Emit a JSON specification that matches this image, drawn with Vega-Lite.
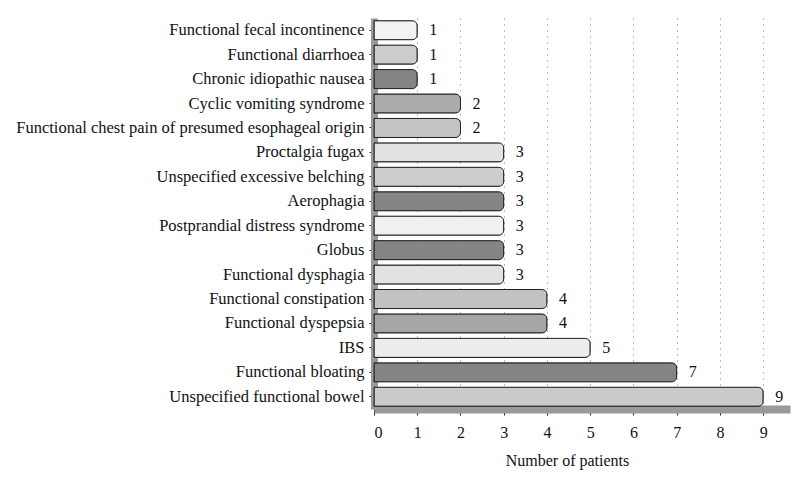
{
  "$schema": "https://vega.github.io/schema/vega-lite/v6.json",
  "autosize": {"type": "none"},
  "width": 416,
  "height": 391,
  "padding": {"left": 374, "top": 18, "right": 6, "bottom": 68},
  "background": "white",
  "config": {
    "view": {"stroke": null},
    "font": "Liberation Serif",
    "axis": {"labelFont": "Liberation Serif", "titleFont": "Liberation Serif", "labelColor": "#111", "titleColor": "#111"}
  },
  "data": {
    "values": [
      {"disorder": "Functional fecal incontinence", "patients": 1},
      {"disorder": "Functional diarrhoea", "patients": 1},
      {"disorder": "Chronic idiopathic nausea", "patients": 1},
      {"disorder": "Cyclic vomiting syndrome", "patients": 2},
      {"disorder": "Functional chest pain of presumed esophageal origin", "patients": 2},
      {"disorder": "Proctalgia fugax", "patients": 3},
      {"disorder": "Unspecified excessive belching", "patients": 3},
      {"disorder": "Aerophagia", "patients": 3},
      {"disorder": "Postprandial distress syndrome", "patients": 3},
      {"disorder": "Globus", "patients": 3},
      {"disorder": "Functional dysphagia", "patients": 3},
      {"disorder": "Functional constipation", "patients": 4},
      {"disorder": "Functional dyspepsia", "patients": 4},
      {"disorder": "IBS", "patients": 5},
      {"disorder": "Functional bloating", "patients": 7},
      {"disorder": "Unspecified functional bowel", "patients": 9}
    ]
  },
  "encoding": {
    "y": {
      "field": "disorder",
      "type": "nominal",
      "sort": null,
      "scale": {"paddingInner": 0.22, "paddingOuter": 0.11},
      "axis": {
        "title": null,
        "labelFontSize": 16.5,
        "labelPadding": 5,
        "tickSize": 5,
        "tickColor": "#222",
        "domainColor": "#9a9a9a",
        "domainWidth": 7,
        "labelLimit": 400
      }
    },
    "x": {
      "field": "patients",
      "type": "quantitative",
      "scale": {"domain": [0, 9.62], "nice": false},
      "axis": {
        "values": [0, 1, 2, 3, 4, 5, 6, 7, 8, 9],
        "title": "Number of patients",
        "titleFontSize": 16,
        "titleFontWeight": "normal",
        "titleX": 193,
        "titlePadding": 12,
        "labelFontSize": 16,
        "labelPadding": 9,
        "tickSize": 6,
        "tickColor": "#222",
        "domainColor": "#9a9a9a",
        "domainWidth": 8,
        "grid": true,
        "gridColor": "#777",
        "gridDash": [1, 5],
        "gridWidth": 1
      }
    }
  },
  "layer": [
    {
      "mark": {"type": "bar", "stroke": "#222", "strokeWidth": 1, "cornerRadiusEnd": 5},
      "encoding": {
        "color": {
          "field": "disorder",
          "type": "nominal",
          "legend": null,
          "scale": {
            "domain": [
              "Functional fecal incontinence", "Functional diarrhoea", "Chronic idiopathic nausea",
              "Cyclic vomiting syndrome", "Functional chest pain of presumed esophageal origin",
              "Proctalgia fugax", "Unspecified excessive belching", "Aerophagia",
              "Postprandial distress syndrome", "Globus", "Functional dysphagia",
              "Functional constipation", "Functional dyspepsia", "IBS",
              "Functional bloating", "Unspecified functional bowel"
            ],
            "range": [
              "#f2f2f2", "#cccccc", "#858585",
              "#ababab", "#c4c4c4",
              "#e2e2e2", "#cdcdcd", "#858585",
              "#f0f0f0", "#858585", "#e2e2e2",
              "#c2c2c2", "#a6a6a6", "#ececec",
              "#858585", "#cbcbcb"
            ]
          }
        }
      }
    },
    {
      "mark": {"type": "text", "align": "left", "baseline": "middle", "dx": 12, "fontSize": 16, "font": "Liberation Serif", "color": "#111"},
      "encoding": {"text": {"field": "patients", "type": "quantitative"}}
    }
  ]
}
